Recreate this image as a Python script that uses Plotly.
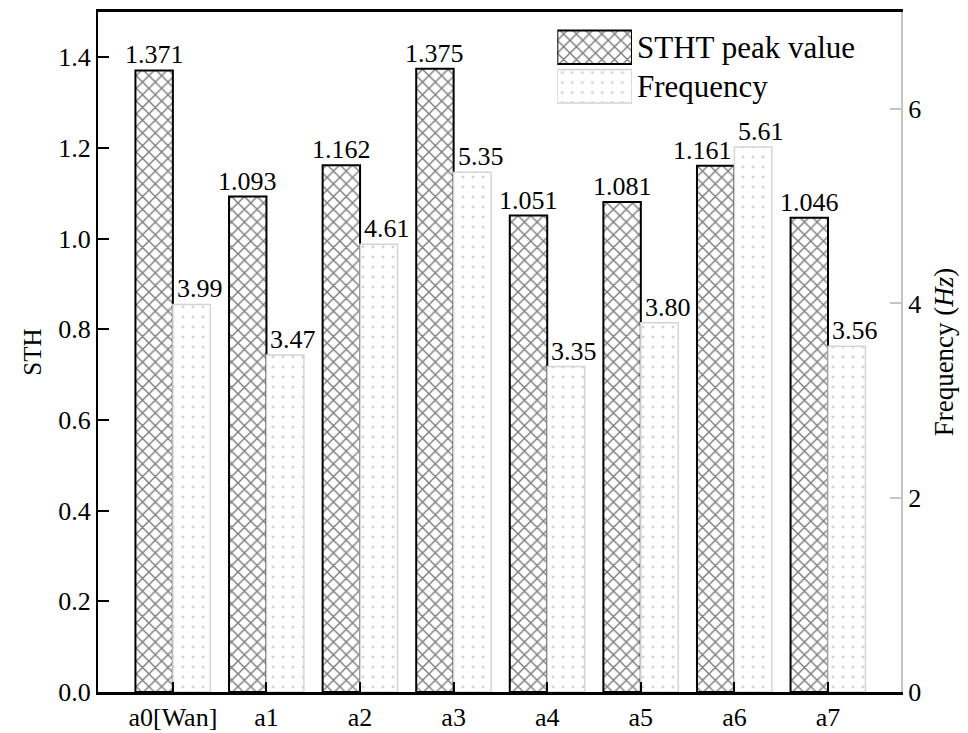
import plotly.graph_objects as go

categories = ["a0[Wan]", "a1", "a2", "a3", "a4", "a5", "a6", "a7"]
stht_peak = [1.371, 1.093, 1.162, 1.375, 1.051, 1.081, 1.161, 1.046]
frequency = [3.99, 3.47, 4.61, 5.35, 3.35, 3.80, 5.61, 3.56]
legend_names = ["STHT peak value", "Frequency"]

# label nudges (pixels) so neighbouring labels do not collide, as in the original
stht_label_shift = [0, 0, 0, 0, 0, 0, -13, 0]
freq_label_shift = [8, 8, 8, 9, 8, 8, 8, 8]

FONT = "Liberation Serif"
GREY = "#c4c4c4"

stht_pattern = dict(shape="x", size=9, solidity=0.3, fgcolor="black", bgcolor="white")
freq_pattern = dict(shape=".", size=10, solidity=0.07, fgcolor="#a8a8a8", bgcolor="white")

fig = go.Figure()

fig.add_trace(go.Bar(
    x=categories, y=stht_peak, xaxis="x", yaxis="y",
    offset=-0.4, width=0.4,
    marker=dict(color="white", pattern=stht_pattern, line=dict(color="black", width=2)),
    showlegend=False,
))
fig.add_trace(go.Bar(
    x=categories, y=frequency, xaxis="x", yaxis="y2",
    offset=0.0, width=0.4,
    marker=dict(color="white", pattern=freq_pattern, line=dict(color="#d4d4d4", width=1.5)),
    showlegend=False,
))

# custom legend swatches (large hatched boxes) drawn on a small helper axis
fig.add_trace(go.Bar(
    x=[1], y=[legend_names[0]], orientation="h", xaxis="x3", yaxis="y3", width=0.86,
    marker=dict(color="white", pattern=stht_pattern, line=dict(color="black", width=2)),
    showlegend=False, hoverinfo="skip",
))
fig.add_trace(go.Bar(
    x=[1], y=[legend_names[1]], orientation="h", xaxis="x3", yaxis="y3", width=0.86,
    marker=dict(color="white", pattern=freq_pattern, line=dict(color="#d4d4d4", width=1.5)),
    showlegend=False, hoverinfo="skip",
))

annotations = []
for i, v in enumerate(stht_peak):
    annotations.append(dict(
        x=i - 0.2, y=v, xref="x", yref="y", text=f"{v:.3f}", showarrow=False,
        yanchor="bottom", xanchor="center", xshift=stht_label_shift[i], yshift=-1,
        font=dict(family=FONT, size=26, color="black"),
    ))
for i, v in enumerate(frequency):
    annotations.append(dict(
        x=i + 0.2, y=v, xref="x", yref="y2", text=f"{v:.2f}", showarrow=False,
        yanchor="bottom", xanchor="center", xshift=freq_label_shift[i], yshift=-1,
        font=dict(family=FONT, size=26, color="black"),
    ))

fig.update_layout(
    width=968, height=733,
    margin=dict(l=90, r=75, t=1, b=49),
    plot_bgcolor="white", paper_bgcolor="white",
    barmode="overlay",
    font=dict(family=FONT, color="black"),
    annotations=annotations,
    xaxis=dict(
        type="category", range=[-0.8, 7.78],
        showline=True, linecolor="black", linewidth=3, mirror=True,
        ticks="inside", ticklen=10, tickwidth=2, tickcolor="black",
        tickfont=dict(family=FONT, size=26), showgrid=False, zeroline=False,
    ),
    yaxis=dict(
        range=[0, 1.5], tickvals=[0, 0.2, 0.4, 0.6, 0.8, 1.0, 1.2, 1.4], tickformat=".1f",
        showline=True, linecolor="black", linewidth=2,
        ticks="inside", ticklen=11, tickwidth=2, tickcolor="black",
        tickfont=dict(family=FONT, size=26), showgrid=False, zeroline=False,
        title=dict(text="STH", font=dict(family=FONT, size=25), standoff=10),
    ),
    yaxis2=dict(
        range=[0, 7], tickvals=[0, 2, 4, 6], overlaying="y", side="right", anchor="x",
        showline=True, linecolor=GREY, linewidth=2,
        ticks="inside", ticklen=11, tickwidth=2, tickcolor=GREY,
        tickfont=dict(family=FONT, size=26), showgrid=False, zeroline=False,
        title=dict(text="Frequency (<i>Hz</i>)", font=dict(family=FONT, size=27), standoff=14),
    ),
    xaxis3=dict(domain=[0.572, 0.665], range=[0, 1], anchor="y3", visible=False),
    yaxis3=dict(
        domain=[0.862, 0.977], anchor="x3", side="right", type="category",
        categoryorder="array", categoryarray=[legend_names[1], legend_names[0]],
        showline=False, ticks="", showgrid=False, zeroline=False,
        tickfont=dict(family=FONT, size=31), ticklabelstandoff=4,
    ),
)

fig.write_html("out.html")
